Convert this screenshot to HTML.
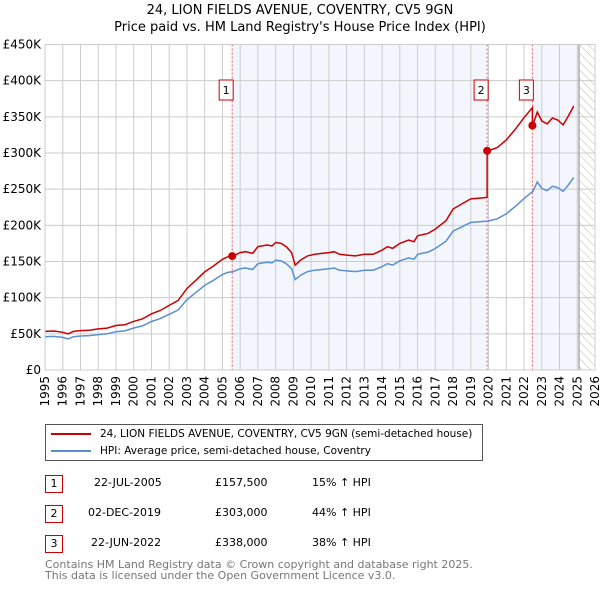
<!DOCTYPE html>
<html><head><meta charset="utf-8">
<style>
body{margin:0;background:#fff;font-family:"DejaVu Sans","Liberation Sans",sans-serif;}
#wrap{position:relative;width:600px;height:590px;}
.t{position:absolute;font-size:12px;color:#000;white-space:nowrap;}
.box{position:absolute;width:18px;height:18px;border:1px solid #c00;box-sizing:border-box;font-size:11px;text-align:center;line-height:16px;}
</style></head><body>
<div id="wrap">
<div class="t" style="left:0;width:600px;text-align:center;top:2px;font-size:13px;line-height:17px;">24, LION FIELDS AVENUE, COVENTRY, CV5 9GN<br>Price paid vs. HM Land Registry's House Price Index (HPI)</div>
<svg id="chart" width="600" height="420" style="position:absolute;left:0;top:0;font-family:'DejaVu Sans','Liberation Sans',sans-serif;"></svg>
<div style="position:absolute;left:45px;top:424px;width:438px;height:37px;border:1px solid #555;box-sizing:border-box;">
 <div style="position:absolute;left:5px;top:3px;font-size:10.5px;white-space:nowrap;"><span style="display:inline-block;width:40px;height:2px;background:#c00;vertical-align:middle;margin-right:9px;"></span>24, LION FIELDS AVENUE, COVENTRY, CV5 9GN (semi-detached house)</div>
 <div style="position:absolute;left:5px;top:20px;font-size:10.5px;white-space:nowrap;"><span style="display:inline-block;width:40px;height:2px;background:#5b8fd4;vertical-align:middle;margin-right:9px;"></span>HPI: Average price, semi-detached house, Coventry</div>
</div>
<div>
 <div class="box" style="left:45px;top:475px;">1</div>
 <div class="t" style="left:94px;top:476px;font-size:11px;">22-JUL-2005</div>
 <div class="t" style="left:215px;top:476px;font-size:11px;">£157,500</div>
 <div class="t" style="left:312px;top:476px;font-size:11px;">15% ↑ HPI</div>
 <div class="box" style="left:45px;top:505px;">2</div>
 <div class="t" style="left:88px;top:506px;font-size:11px;">02-DEC-2019</div>
 <div class="t" style="left:215px;top:506px;font-size:11px;">£303,000</div>
 <div class="t" style="left:312px;top:506px;font-size:11px;">44% ↑ HPI</div>
 <div class="box" style="left:45px;top:535px;">3</div>
 <div class="t" style="left:91px;top:536px;font-size:11px;">22-JUN-2022</div>
 <div class="t" style="left:215px;top:536px;font-size:11px;">£338,000</div>
 <div class="t" style="left:312px;top:536px;font-size:11px;">38% ↑ HPI</div>
</div>
<div class="t" style="left:45px;top:559px;font-size:11px;color:#777;line-height:11px;">Contains HM Land Registry data © Crown copyright and database right 2025.<br>This data is licensed under the Open Government Licence v3.0.</div>
</div>
<script>
const hpiYears=[1995,1995.5,1996,1996.3,1996.6,1997,1997.5,1998,1998.5,1999,1999.5,2000,2000.5,2001,2001.5,2002,2002.5,2003,2003.5,2004,2004.5,2005,2005.3,2005.6,2006,2006.3,2006.7,2007,2007.5,2007.8,2008,2008.3,2008.6,2008.9,2009.1,2009.4,2009.8,2010.2,2010.6,2011,2011.3,2011.6,2012,2012.5,2013,2013.5,2014,2014.3,2014.6,2015,2015.5,2015.8,2016,2016.6,2017,2017.6,2018,2018.5,2019,2019.5,2020,2020.5,2021,2021.5,2022,2022.5,2022.75,2023,2023.3,2023.6,2023.9,2024.2,2024.5,2024.8,2025.1];
const hpiValues=[46,46.5,45,43,46,47,47.5,49,50,53,54,58,61,67,71,77,83,97,107,117,124,132,135,136,140,141,139,147,149,148,152,151,147,140,125,131,136,138,139,140,141,138,137,136,138,138,143,147,145,151,155,153,160,163,168,178,192,198,204,205,206,209,216,226,237,247,260,251,248,254,252,247,256,266];
const saleYears=[2005.55,2019.92,2022.47];
const salePrices=[157.5,303,338];
const saleLabels=["1","2","3"];
const yTicks=[0,50,100,150,200,250,300,350,400,450];
const yTickLabels=["£0","£50K","£100K","£150K","£200K","£250K","£300K","£350K","£400K","£450K"];
const xTicks=[1995,1996,1997,1998,1999,2000,2001,2002,2003,2004,2005,2006,2007,2008,2009,2010,2011,2012,2013,2014,2015,2016,2017,2018,2019,2020,2021,2022,2023,2024,2025,2026];

const X0=45,X1=595,Y0=370,Y1=44.5;
const xs=y=>X0+(y-1995)/(2026-1995)*(X1-X0);
const ys=v=>Y0-v/450*(Y0-Y1);
const svg=document.getElementById('chart');
const NS='http://www.w3.org/2000/svg';
function mk(tag,attrs,parent){const e=document.createElementNS(NS,tag);for(const k in attrs)e.setAttribute(k,attrs[k]);(parent||svg).appendChild(e);return e;}
function hpiAt(t){for(let i=1;i<hpiYears.length;i++){if(t<=hpiYears[i]){const f=(t-hpiYears[i-1])/(hpiYears[i]-hpiYears[i-1]);return hpiValues[i-1]+f*(hpiValues[i]-hpiValues[i-1]);}}return hpiValues[hpiValues.length-1];}
const lastYear=hpiYears[hpiYears.length-1];
const defs=mk('defs',{});
const pat=mk('pattern',{id:'hatch',width:6,height:6,patternUnits:'userSpaceOnUse',patternTransform:'rotate(-45)'},defs);
mk('line',{x1:0,y1:0,x2:0,y2:6,stroke:'#bbb','stroke-width':1},pat);
let s=mk('rect',{x:xs(saleYears[0]),y:Y1,width:xs(saleYears[1])-xs(saleYears[0]),height:Y0-Y1,fill:'#f3f6fd'});

s=mk('rect',{x:xs(saleYears[2]),y:Y1,width:xs(lastYear)-xs(saleYears[2]),height:Y0-Y1,fill:'#f3f6fd'});

s=mk('rect',{x:xs(lastYear),y:Y1,width:X1-xs(lastYear),height:Y0-Y1,fill:'url(#hatch)'});

yTicks.forEach((v,i)=>{
 const l=mk('line',{x1:X0,x2:X1,y1:ys(v),y2:ys(v),stroke:'#ccc','stroke-width':1});
 
 const t=mk('text',{x:X0-4,y:ys(v)+4,'text-anchor':'end','font-size':12,fill:'#000'});t.textContent=yTickLabels[i];
 
});
xTicks.forEach(v=>{
 const l=mk('line',{x1:xs(v),x2:xs(v),y1:Y1,y2:Y0,stroke:'#ccc','stroke-width':1});
 
 const t=mk('text',{x:0,y:0,'text-anchor':'end','font-size':12,fill:'#000',transform:`translate(${xs(v)+4},${Y0+6}) rotate(-90)`});t.textContent=v;
 
});
let bl=mk('line',{x1:xs(lastYear),x2:xs(lastYear),y1:Y1,y2:Y0,stroke:'#888','stroke-width':1});

saleYears.forEach((y,i)=>{
 const l=mk('line',{x1:xs(y),x2:xs(y),y1:Y1,y2:Y0,stroke:'#e55','stroke-width':1,'stroke-dasharray':'2,2'});
 
});
let d=hpiYears.map((y,i)=>(i?'L':'M')+xs(y).toFixed(1)+','+ys(hpiValues[i]).toFixed(1)).join('');
let p=mk('path',{d:d,fill:'none',stroke:'#5b8fd4','stroke-width':1.5});

const ratios=saleYears.map((y,i)=>salePrices[i]/hpiAt(y));
function redAt(t){let r=ratios[0];for(let i=1;i<saleYears.length;i++)if(t>=saleYears[i])r=ratios[i];return hpiAt(t)*r;}
const pts=[];
const times=hpiYears.slice();saleYears.forEach(y=>{times.push(y-0.001);times.push(y);});
times.sort((a,b)=>a-b);
times.forEach(t=>pts.push([xs(t),ys(redAt(t))]));
d=pts.map((q,i)=>(i?'L':'M')+q[0].toFixed(1)+','+q[1].toFixed(1)).join('');
p=mk('path',{d:d,fill:'none',stroke:'#c00','stroke-width':1.5});

saleYears.forEach((y,i)=>{
 const c=mk('circle',{cx:xs(y),cy:ys(salePrices[i]),r:4,fill:'#c00'});
 
 const r=mk('rect',{x:xs(y)-13,y:80,width:14,height:20,fill:'#fff',stroke:'#c00','stroke-width':1});
 
 const t=mk('text',{x:xs(y)-6,y:94,'text-anchor':'middle','font-size':11,fill:'#000'});t.textContent=saleLabels[i];
 
});
let fr=mk('rect',{x:X0,y:Y1,width:X1-X0,height:Y0-Y1,fill:'none',stroke:'#ccc'});

</script>
</body></html>
